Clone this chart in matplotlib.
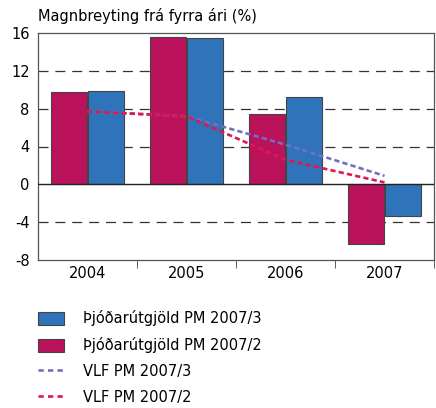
import matplotlib.pyplot as plt
from matplotlib.patches import Patch
from matplotlib.lines import Line2D
import numpy as np

years = ['2004', '2005', '2006', '2007']
utgjold_3 = [9.9, 15.5, 9.2, -3.4]   # Þjóðarútgjöld PM 2007/3
utgjold_2 = [9.8, 15.6, 7.4, -6.3]   # Þjóðarútgjöld PM 2007/2
vlf_3 = [7.7, 7.2, 4.2, 0.9]         # VLF PM 2007/3
vlf_2 = [7.7, 7.2, 2.6, 0.2]         # VLF PM 2007/2

blue = '#2F74BA'
magenta = '#BA135C'
red = '#E0174F'
purple = '#7070C0'

plt.rcParams['font.family'] = 'DejaVu Sans'
fig = plt.figure(figsize=(4.36, 4.08), dpi=100)
ax = fig.add_axes([38 / 436, 1 - 260 / 408, 396 / 436, 227 / 408])

x = np.arange(len(years))
w = 0.36
for yv in [12, 8, 4, -4]:
    ax.axhline(yv, color='#333333', lw=0.9, dashes=(8, 5.5), zorder=1)
ax.axhline(0, color='#222222', lw=1.0, zorder=4)

ax.bar(x - w / 2 - 0.005, utgjold_2, w, color=magenta, edgecolor='#444444', lw=0.8, zorder=2)
ax.bar(x + w / 2 + 0.005, utgjold_3, w, color=blue, edgecolor='#444444', lw=0.8, zorder=2)
ax.plot(x, vlf_3, color=purple, lw=1.9, dashes=(2, 1.2), zorder=5)
ax.plot(x, vlf_2, color=red, lw=1.9, dashes=(2, 1.2), zorder=5)

ax.set_xlim(-0.5, 3.5)
ax.set_ylim(-8, 16)
ax.set_yticks([-8, -4, 0, 4, 8, 12, 16])
ax.set_yticklabels(['-8', '-4', '0', '4', '8', '12', '16'], fontsize=10.5)
ax.tick_params(axis='y', length=0, pad=6)
ax.set_xticks(x)
ax.set_xticklabels(years, fontsize=10.5)
ax.tick_params(axis='x', which='major', length=0, pad=4)
ax.set_xticks([0.5, 1.5, 2.5, 3.5], minor=True)
ax.tick_params(axis='x', which='minor', length=6, direction='out', color='#444444')
for s in ax.spines.values():
    s.set_color('#555555')
    s.set_linewidth(0.9)

fig.text(38 / 436, 1 - 16 / 408, 'Magnbreyting frá fyrra ári (%)', fontsize=10.5,
         va='center', ha='left')

handles = [
    Patch(facecolor=blue, edgecolor='#444444', lw=0.8),
    Patch(facecolor=magenta, edgecolor='#444444', lw=0.8),
    Line2D([], [], color=purple, lw=1.9, dashes=(2, 1.6)),
    Line2D([], [], color=red, lw=1.9, dashes=(2, 1.6)),
]
labels = ['Þjóðarútgjöld PM 2007/3', 'Þjóðarútgjöld PM 2007/2',
          'VLF PM 2007/3', 'VLF PM 2007/2']
fig.legend(handles, labels, loc='upper left', bbox_to_anchor=(25 / 436, 1 - 297 / 408),
           frameon=False, fontsize=10.5, handlelength=1.8, handleheight=1.0,
           handletextpad=1.3, labelspacing=0.75)

fig.savefig('out.png', dpi=100)
